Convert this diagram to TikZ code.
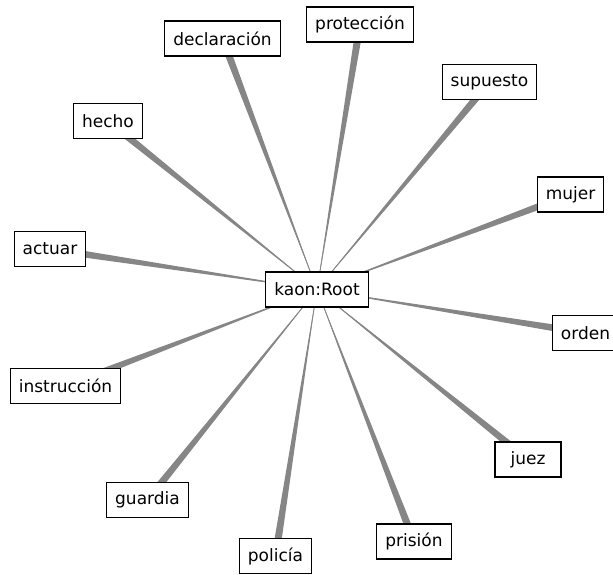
\documentclass[tikz,border=0pt]{standalone}
\usepackage{fontspec}
\setmainfont{DejaVu Sans}
\usepackage{tikz}
\usetikzlibrary{calc, backgrounds}

% tapered spoke from the root out to one word
\newcommand{\spoke}[1]{%
  \fill[spoke] (root.center) -- ($(#1)!3.8pt!90:(root)$) -- ($(#1)!3.8pt!-90:(root)$) -- cycle;
  \draw[spoke, line width=0.8pt] (root) -- (#1);}

\begin{document}
\begin{tikzpicture}[x=1pt, y=-1pt,
  word node/.style={rectangle, draw=black, fill=white, line width=1.1pt,
    font=\fontsize{17}{20}\selectfont, inner xsep=8.5pt, inner ysep=0pt,
    minimum height=35pt, minimum width=66pt},
  spoke/.style={gray!95}]

\useasboundingbox (0,0) rectangle (613,574);

\node[word node] (root)   at (317,289.5)   {kaon:Root};
\node[word node] (decl)   at (222.5,38.5)  {declaración};
\node[word node] (prot)   at (360,24.5)    {protección};
\node[word node] (supu)   at (489.5,82)    {supuesto};
\node[word node] (hecho)  at (108,121)     {hecho};
\node[word node] (mujer)  at (570.5,194.5) {mujer};
\node[word node] (actuar) at (50,249)      {actuar};
\node[word node] (orden)  at (585.5,333)   {orden};
\node[word node] (instr)  at (65.5,386)    {instrucción};
\node[word node] (juez)   at (528,459.5)   {juez};
\node[word node] (guard)  at (147.5,500)   {guardia};
\node[word node] (prision) at (414,541.5)  {prisión};
\node[word node] (polic)  at (275.5,556)   {policía};

\begin{scope}[on background layer]
\spoke{decl}
\spoke{prot}
\spoke{supu}
\spoke{hecho}
\spoke{mujer}
\spoke{actuar}
\spoke{orden}
\spoke{instr}
\spoke{juez}
\spoke{guard}
\spoke{prision}
\spoke{polic}
\end{scope}
\end{tikzpicture}
\end{document}
